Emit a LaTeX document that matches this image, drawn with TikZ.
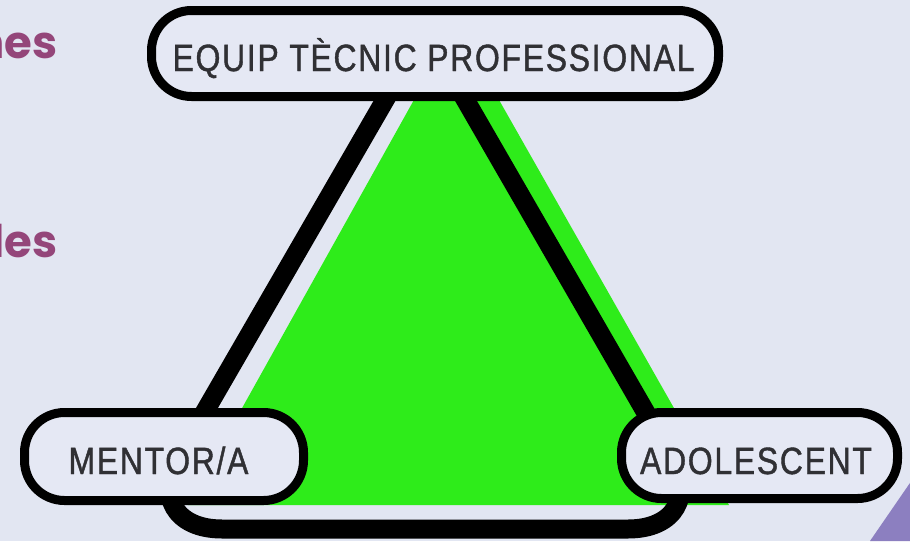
\documentclass[tikz,border=0pt]{standalone}
\usepackage{fontspec}
\setmainfont{Liberation Sans}
\newfontfamily\lblfont{Liberation Sans}[FakeStretch=0.84, LetterSpace=4.5, FakeBold=1.1]
\newfontfamily\popfont{Poppins}
\definecolor{bgc}{RGB}{226,230,242}
\definecolor{boxc}{RGB}{229,232,244}
\definecolor{greenc}{RGB}{46,236,26}
\definecolor{txtc}{RGB}{48,48,52}
\definecolor{fragc}{RGB}{148,70,122}
\definecolor{purplec}{RGB}{140,127,192}
\begin{document}
\begin{tikzpicture}[x=1pt,y=-1pt,
  box/.style={draw=black, line width=9pt, fill=boxc, rounded corners=40pt, inner sep=0pt},
  lbl/.style={anchor=base, text=txtc, font=\lblfont\fontsize{38pt}{44pt}\selectfont, inner sep=0pt},
  frag/.style={anchor=base east, text=fragc, font=\popfont\bfseries\fontsize{45pt}{52pt}\selectfont, inner sep=0pt},
  outline/.style={draw=black, line width=19pt, rounded corners=85pt}]
\path[use as bounding box] (0,0) rectangle (910,541);
\clip (0,0) rectangle (910,541);
\fill[bgc] (0,0) rectangle (910,541);
% purple corner shape
\fill[purplec] (870,541) -- (912,480) -- (912,541) -- cycle;
% text fragments at left
\node[frag] (fragA) at (58,58) {nes};
\node[frag] (fragB) at (58,257) {les};
% green triangle
\fill[greenc] (439,55) -- (473.5,55) -- (729,505) -- (188,505) -- cycle;
% black outline
\coordinate (lt) at (411,55);
\coordinate (bl) at (137,529);
\coordinate (br) at (713,529);
\coordinate (rt) at (439.5,55);
\draw[outline] (lt) -- (bl) -- (br) -- (rt);
% boxes
\node[box, minimum width=567pt, minimum height=86pt] (top) at (435,53.5) {};
\node[box, minimum width=279pt, minimum height=88pt] (mentor) at (164,456.5) {};
\node[box, minimum width=276pt, minimum height=86pt] (adol) at (759.5,455.5) {};
\node[lbl] (toptxt) at (433.5,71) {EQUIP TÈCNIC PROFESSIONAL};
\node[lbl] (mentortxt) at (158.5,474) {MENTOR/A};
\node[lbl] (adoltxt) at (756,474) {ADOLESCENT};
\end{tikzpicture}
\end{document}
